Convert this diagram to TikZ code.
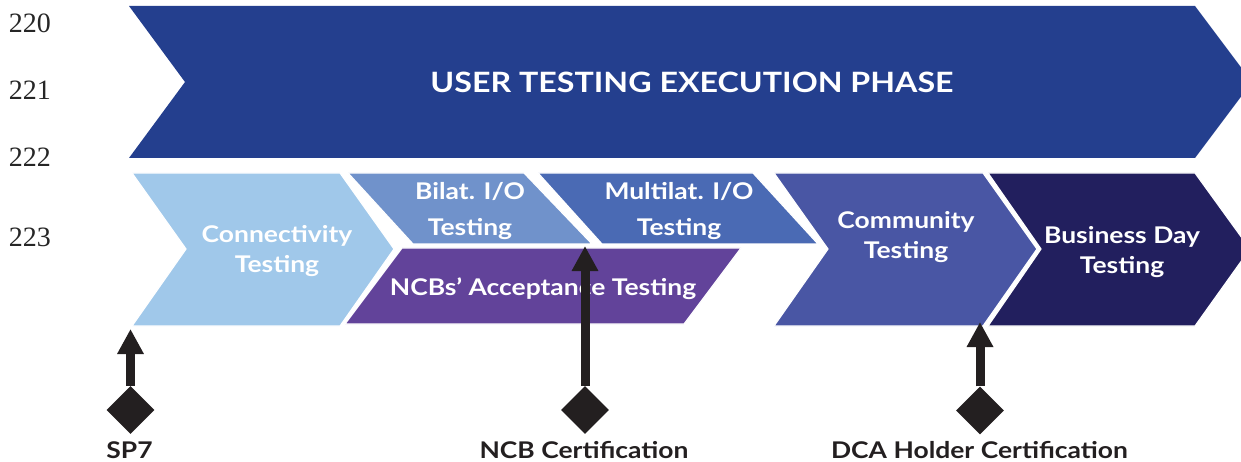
\documentclass[tikz,border=0pt]{standalone}
\usepackage{fontspec}
\setmainfont{Lato}[FakeStretch=1.15]
\newfontfamily\numfont{Liberation Serif}
\usetikzlibrary{shapes.geometric,arrows.meta}
\definecolor{banner}{RGB}{36,63,142}
\definecolor{conn}{RGB}{160,200,234}
\definecolor{bilat}{RGB}{112,146,203}
\definecolor{multi}{RGB}{74,106,180}
\definecolor{ncbacc}{RGB}{98,67,154}
\definecolor{comm}{RGB}{73,86,164}
\definecolor{bday}{RGB}{34,31,94}
\definecolor{ink}{RGB}{35,31,32}
\begin{document}
\begin{tikzpicture}[x=1pt,y=-1pt,
  shapebox/.style={draw=white,line width=1.2pt},
  lbl/.style={text=white,font=\fontsize{23}{30}\selectfont\bfseries,align=center,inner sep=0},
  lbltall/.style={lbl,font=\fontsize{23}{36.7}\selectfont\bfseries},
  titlelbl/.style={text=white,font=\fontsize{28}{32}\selectfont\bfseries,inner sep=0,anchor=base},
  milestone/.style={diamond,fill=ink,minimum width=48pt,minimum height=48pt,inner sep=0,aspect=1},
  mlabel/.style={text=ink,font=\fontsize{23}{26}\selectfont\bfseries,inner sep=0,anchor=base},
  marrow/.style={draw=ink,line width=9pt,-{Triangle[width=25pt,length=25pt]}},
  linenum/.style={font=\fontsize{28}{30}\selectfont\numfont,text=black!85,inner sep=0,anchor=base}]
\useasboundingbox (0,0) rectangle (1241,462);
% line numbers
\node[linenum] (n220) at (30,32.3) {220};
\node[linenum] (n221) at (30,99.5) {221};
\node[linenum] (n222) at (30,166.7) {222};
\node[linenum] (n223) at (30,247) {223};
% banner
\fill[banner] (129,6) -- (1195,6) -- (1252,82) -- (1195,158) -- (129,158) -- (185,82) -- cycle;
\node[titlelbl] (phase) at (692,93) {USER TESTING EXECUTION PHASE};
% second row
\filldraw[shapebox,fill=conn] (132,173) -- (340,173) -- (394,249) -- (340,326) -- (132,326) -- (186,249) -- cycle;
\filldraw[shapebox,fill=bilat] (348,173) -- (524,173) -- (592,244) -- (413,244) -- cycle;
\filldraw[shapebox,fill=multi] (538,173) -- (753,173) -- (818,244) -- (602,244) -- cycle;
\filldraw[shapebox,fill=ncbacc] (402,248) -- (741,248) -- (684,324) -- (345,324) -- cycle;
\filldraw[shapebox,fill=comm] (774,173) -- (983,173) -- (1037,249) -- (983,326) -- (774,326) -- (828,249) -- cycle;
\filldraw[shapebox,fill=bday] (988,173) -- (1195,173) -- (1250,249) -- (1195,326) -- (988,326) -- (1041,249) -- cycle;
\node[lbl] (conn) at (277,251) {Connectivity\\Testing};
\node[lbltall] (bilat) at (470,211) {Bilat. I/O\\Testing};
\node[lbltall] (multi) at (679,211) {Multilat. I/O\\Testing};
\node[lbl,anchor=base] (ncbacc) at (543,295) {NCBs’ Acceptance Testing};
\node[lbl] (comm) at (906,236.7) {Community\\Testing};
\node[lbl] (bday) at (1122,252.2) {Business Day\\Testing};
% milestones
\node[milestone] (d1) at (130.5,410) {};
\node[milestone] (d2) at (585,410) {};
\node[milestone] (d3) at (980,410.5) {};
\coordinate (t1) at (130.5,329);
\coordinate (t2) at (585,246);
\coordinate (t3) at (980,322);
\draw[marrow] (d1.north) -- (t1);
\draw[marrow] (d2.north) -- (t2);
\draw[marrow] (d3.north) -- (t3);
\node[mlabel] (sp7) at (129.5,458.3) {SP7};
\node[mlabel] (ncbcert) at (584,458.3) {NCB Certification};
\node[mlabel] (dcacert) at (979.5,458.3) {DCA Holder Certification};
\end{tikzpicture}
\end{document}
